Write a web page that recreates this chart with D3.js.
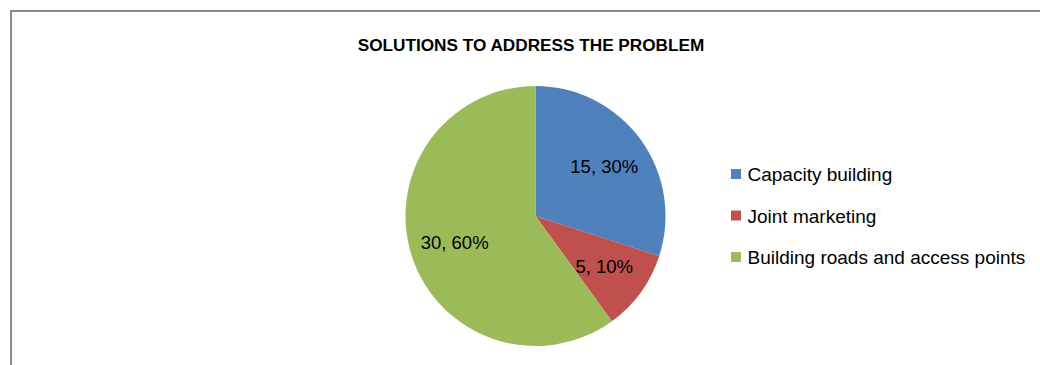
<!DOCTYPE html>
<html>
<head>
<meta charset="utf-8">
<script src="https://cdn.jsdelivr.net/npm/d3@7"></script>
<style>
  html, body { margin: 0; padding: 0; background: #ffffff; }
  svg { display: block; }
  text { font-family: "Liberation Sans", Arial, sans-serif; fill: #000; }
</style>
</head>
<body>
<svg id="chart" width="1040" height="365"></svg>
<script>
// Survey responses: solutions proposed to address the problem
const categories = ["Capacity building", "Joint marketing", "Building roads and access points"];
const counts = [15, 5, 30];
const percents = [30, 10, 60];
const colors = ["#4F81BD", "#C0504D", "#9BBB59"];
const title = "SOLUTIONS TO ADDRESS THE PROBLEM";

const svg = d3.select("#chart");
const W = 1040, H = 365;

// chart area frame
svg.append("rect")
  .attr("x", 11).attr("y", 11)
  .attr("width", W + 20).attr("height", H + 20)
  .attr("fill", "#fff")
  .attr("stroke", "#8c8c8c")
  .attr("stroke-width", 2);

// title
svg.append("text")
  .attr("x", 531).attr("y", 50.7)
  .attr("text-anchor", "middle")
  .attr("font-size", 17.2)
  .attr("font-weight", "bold")
  .text(title);

const data = categories.map((c, i) => ({ name: c, value: counts[i], pct: percents[i], color: colors[i] }));

const cx = 535.5, cy = 216, r = 130;
const pie = d3.pie().sort(null).value(d => d.value);
const arc = d3.arc().innerRadius(0).outerRadius(r);
const labelArc = d3.arc().innerRadius(85).outerRadius(85);

const g = svg.append("g").attr("transform", `translate(${cx},${cy})`);
const arcs = pie(data);

g.selectAll("path.slice")
  .data(arcs)
  .join("path")
  .attr("class", "slice")
  .attr("d", arc)
  .attr("fill", d => d.data.color);

g.selectAll("text.lbl")
  .data(arcs)
  .join("text")
  .attr("class", "lbl")
  .attr("transform", d => `translate(${labelArc.centroid(d)})`)
  .attr("text-anchor", "middle")
  .attr("dy", "0.36em")
  .attr("font-size", 18.5)
  .text(d => `${d.data.value}, ${d.data.pct}%`);

// legend
const legend = svg.append("g").attr("transform", "translate(731,169)");
const rowH = 41.5;
const item = legend.selectAll("g.item")
  .data(data)
  .join("g")
  .attr("class", "item")
  .attr("transform", (d, i) => `translate(0,${i * rowH})`);

item.append("rect")
  .attr("width", 10).attr("height", 10)
  .attr("fill", d => d.color);

item.append("text")
  .attr("x", 16.5).attr("y", 12)
  .attr("font-size", 19)
  .text(d => d.name);
</script>
</body>
</html>
